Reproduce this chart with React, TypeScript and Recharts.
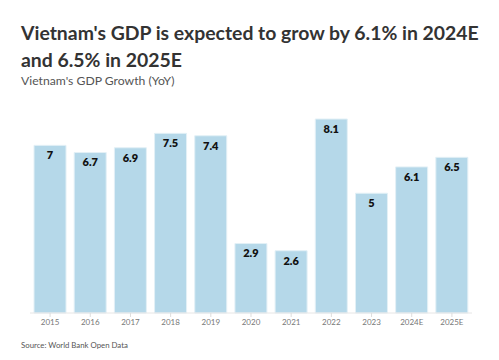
import React from 'react';
import { BarChart, Bar, XAxis, YAxis, LabelList } from 'recharts';

const years = ['2015', '2016', '2017', '2018', '2019', '2020', '2021', '2022', '2023', '2024E', '2025E'];
const growth = [7, 6.7, 6.9, 7.5, 7.4, 2.9, 2.6, 8.1, 5, 6.1, 6.5];

const FONT = '"Source Sans Pro", Lato, "Open Sans", sans-serif';

export default function App() {
  const data = years.map((name, i) => ({ name, value: growth[i] }));

  return (
    <div style={{ position: 'absolute', left: 0, top: 0, width: 499, height: 360, background: '#fff', fontFamily: FONT }}>
      <div style={{ position: 'absolute', left: 21, top: 19, width: 478, fontSize: 19.4, fontWeight: 700, color: '#333', lineHeight: '27px', whiteSpace: 'nowrap' }}>
        Vietnam's GDP is expected to grow by 6.1% in 2024E
        <br />
        and 6.5% in 2025E
      </div>
      <div style={{ position: 'absolute', left: 21, top: 73, fontSize: 12.2, color: '#555' }}>
        Vietnam's GDP Growth (YoY)
      </div>
      <div style={{ position: 'absolute', left: 0, top: 100 }}>
        <BarChart width={499} height={235} data={data} margin={{ top: 19, right: 27, left: 30, bottom: 0 }} barCategoryGap="10%">
          <XAxis
            dataKey="name"
            height={22}
            axisLine={{ stroke: '#e6e6e6' }}
            tickLine={{ stroke: '#ddd' }}
            tickSize={4}
            tick={{ fontSize: 8, fill: '#777', fontFamily: FONT }}
          />
          <YAxis hide domain={[0, 8.1]} />
          <Bar dataKey="value" fill="#b5d8e9" stroke="#e3f0f6" strokeWidth={1} isAnimationActive={false}>
            <LabelList dataKey="value" position="insideTop" offset={6} style={{ fontSize: 11, fontWeight: 800, fill: '#111', fontFamily: FONT }} />
          </Bar>
        </BarChart>
      </div>
      <div style={{ position: 'absolute', left: 21, top: 340, fontSize: 7.8, color: '#555' }}>
        Source: World Bank Open Data
      </div>
    </div>
  );
}
